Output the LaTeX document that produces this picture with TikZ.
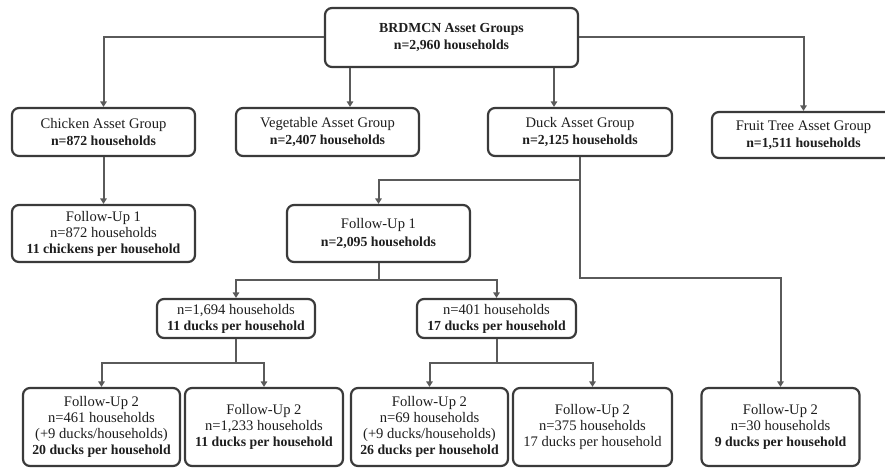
\documentclass[tikz,border=0pt]{standalone}
\usepackage{fontspec}
\setmainfont{Liberation Serif}
\usetikzlibrary{arrows.meta,calc}
\definecolor{boxc}{HTML}{3A3A3A}
\definecolor{linec}{HTML}{5A5A5A}
\definecolor{txt}{HTML}{1E1E1E}
\newcommand\bfx[1]{{\fontsize{13.8}{16}\selectfont\bfseries #1}}
\tikzset{
  box/.style={draw=boxc, line width=2.2pt, rounded corners=7pt, fill=white, align=center,
    inner sep=0pt, text=txt, font=\fontsize{14.6}{16}\selectfont},
  widebox/.style={box, font=\fontsize{14.6}{17.5}\selectfont},
  arr/.style={draw=linec, line width=2pt, -{Triangle[length=5.5pt,width=6.5pt]}},
}
\begin{document}
\begin{tikzpicture}[x=1pt,y=-1pt]
\useasboundingbox (0,0) rectangle (885,468);
% level 0
\node[widebox, minimum width=253pt, minimum height=59pt] (top) at (451.5,37.5)
  {\bfx{BRDMCN Asset Groups}\\\bfx{n=2,960 households}};
% level 1
\node[widebox, minimum width=183pt, minimum height=48pt] (chick) at (103.5,132)
  {Chicken Asset Group\\\bfx{n=872 households}};
\node[widebox, minimum width=183pt, minimum height=48pt] (veg) at (327.5,132)
  {Vegetable Asset Group\\\bfx{n=2,407 households}};
\node[widebox, minimum width=184pt, minimum height=48pt] (duck) at (580,132)
  {Duck Asset Group\\\bfx{n=2,125 households}};
\node[widebox, minimum width=183pt, minimum height=46pt] (fruit) at (803.5,135)
  {Fruit Tree Asset Group\\\bfx{n=1,511 households}};
% follow-up 1
\node[box, minimum width=183pt, minimum height=57pt] (fu1c) at (103.5,233.5)
  {Follow-Up 1\\n=872 households\\\bfx{11 chickens per household}};
\node[widebox, minimum width=183pt, minimum height=57pt] (fu1d) at (378.5,233.5)
  {Follow-Up 1\\\bfx{n=2,095 households}};
% groups
\node[box, minimum width=158pt, minimum height=39pt] (g1) at (236,318.5)
  {n=1,694 households\\\bfx{11 ducks per household}};
\node[box, minimum width=159pt, minimum height=39pt] (g2) at (496.5,318.5)
  {n=401 households\\\bfx{17 ducks per household}};
% follow-up 2
\node[box, minimum width=157pt, minimum height=78pt] (b1) at (101.5,427)
  {Follow-Up 2\\n=461 households\\(+9 ducks/households)\\\bfx{20 ducks per household}};
\node[box, minimum width=158pt, minimum height=78pt] (b2) at (264,427)
  {Follow-Up 2\\n=1,233 households\\\bfx{11 ducks per household}};
\node[box, minimum width=157pt, minimum height=78pt] (b3) at (429.5,427)
  {Follow-Up 2\\n=69 households\\(+9 ducks/households)\\\bfx{26 ducks per household}};
\node[box, minimum width=159pt, minimum height=78pt] (b4) at (592.5,427)
  {Follow-Up 2\\n=375 households\\17 ducks per household};
\node[box, minimum width=158pt, minimum height=78pt] (b5) at (780.5,427)
  {Follow-Up 2\\n=30 households\\\bfx{9 ducks per household}};
% connectors
\draw[arr] (top.west) -| (chick.north);
\draw[arr] (top.east) -| (fruit.north);
\draw[arr] ([xshift=22.5]veg.north |- top.south) -- ([xshift=22.5]veg.north);
\draw[arr] ([xshift=-26]duck.north |- top.south) -- ([xshift=-26]duck.north);
\draw[arr] (chick.south) -- (fu1c.north);
\coordinate (dj1) at (580,180);
\coordinate (dj2) at (580,278);
\draw[arr] (duck.south) -- (dj1) -| (fu1d.north);
\draw[arr] (dj1) -- (dj2) -| (b5.north);
\coordinate (j2) at (378.5,280);
\draw[arr] (fu1d.south) -- (j2) -| (g1.north);
\draw[arr] (j2) -| (g2.north);
\coordinate (j3) at (236,363);
\draw[arr] (g1.south) -- (j3) -| (b1.north);
\draw[arr] (j3) -| (b2.north);
\coordinate (j4) at (496.5,363);
\draw[arr] (g2.south) -- (j4) -| (b3.north);
\draw[arr] (j4) -| (b4.north);
\end{tikzpicture}
\end{document}
